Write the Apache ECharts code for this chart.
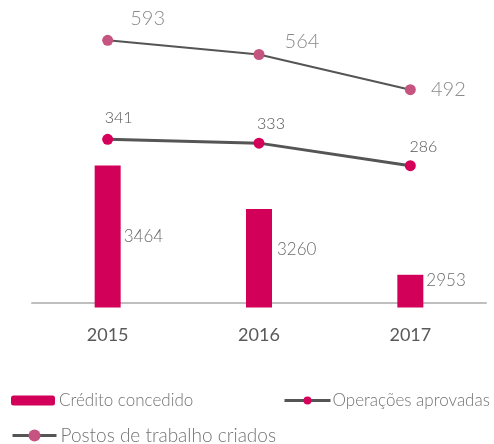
<!DOCTYPE html>
<html>
<head>
<meta charset="utf-8">
<script src="https://cdn.jsdelivr.net/npm/echarts@6/dist/echarts.min.js"></script>
<style>
html,body{margin:0;padding:0;background:#fff;}
#c{width:494px;height:444px;}
</style>
</head>
<body>
<div id="c"></div>
<script>
const categories = ['2015', '2016', '2017'];
const creditoConcedido = [3464, 3260, 2953];
const operacoesAprovadas = [341, 333, 286];
const postosTrabalho = [593, 564, 492];

const FONT = 'Lato';
const chart = echarts.init(document.getElementById('c'), null, {renderer: 'canvas'});

const barLabelShift = [[0, 0], [2, -9], [0, -11]];
const opLabelShift = [[11, -21], [12, -19], [13, -19]];
const postosLabelShift = [[40, -22], [43, -13], [38, 0]];

const option = {
  animation: false,
  textStyle: {fontFamily: FONT},
  grid: {left: 32, right: 8, top: 8, bottom: 136.5, containLabel: false},
  legend: [
    {
      data: ['Crédito concedido'], left: 11, top: 392,
      itemWidth: 44, itemHeight: 10, padding: 0,
      textStyle: {fontFamily: FONT, fontSize: 17, fontWeight: 300, color: '#737373', padding: [0, 0, 0, -1]}
    },
    {
      data: ['Operações aprovadas'], left: 283, top: 392,
      itemWidth: 46, itemHeight: 10, padding: 0,
      lineStyle: {width: 3},
      textStyle: {fontFamily: FONT, fontSize: 17, fontWeight: 300, color: '#737373', padding: [0, 0, 0, -3]}
    },
    {
      data: ['Postos de trabalho criados'], left: 11, top: 426,
      itemWidth: 44, itemHeight: 15, padding: 0,
      lineStyle: {width: 3},
      textStyle: {fontFamily: FONT, fontSize: 19, fontWeight: 300, color: '#737373', padding: [0, 0, 0, -1]}
    }
  ],
  xAxis: {
    type: 'category',
    data: categories,
    axisLine: {show: true, lineStyle: {color: '#bfbfbf', width: 2}},
    axisTick: {show: false},
    axisLabel: {fontFamily: FONT, fontSize: 18, color: '#595959', margin: 19}
  },
  yAxis: [
    {type: 'value', min: 2800, max: 4200, show: false, splitLine: {show: false}},
    {type: 'value', min: -9.4, max: 614.5, show: false, splitLine: {show: false}},
    {type: 'value', min: 46.6, max: 659.1, show: false, splitLine: {show: false}}
  ],
  series: [
    {
      name: 'Crédito concedido',
      type: 'bar',
      yAxisIndex: 0,
      barWidth: 26,
      itemStyle: {color: '#d20058'},
      data: creditoConcedido.map((v, i) => ({
        value: v,
        label: {
          show: true, position: 'right', distance: 3,
          offset: barLabelShift[i],
          fontFamily: FONT, fontSize: 17, fontWeight: 300, color: '#6b6b6b'
        }
      })),
      z: 1
    },
    {
      name: 'Operações aprovadas',
      type: 'line',
      yAxisIndex: 1,
      symbol: 'circle',
      symbolSize: 11,
      itemStyle: {color: '#d4005a'},
      lineStyle: {color: '#555555', width: 3},
      data: operacoesAprovadas.map((v, i) => ({
        value: v,
        label: {
          show: true, position: 'inside',
          offset: opLabelShift[i],
          fontFamily: FONT, fontSize: 16, fontWeight: 300, color: '#555555'
        }
      })),
      z: 3
    },
    {
      name: 'Postos de trabalho criados',
      type: 'line',
      yAxisIndex: 2,
      symbol: 'circle',
      symbolSize: 11,
      itemStyle: {color: '#c55480'},
      lineStyle: {color: '#555555', width: 2},
      data: postosTrabalho.map((v, i) => ({
        value: v,
        label: {
          show: true, position: 'inside',
          offset: postosLabelShift[i],
          fontFamily: FONT, fontSize: 20, fontWeight: 300, color: '#8a8a8a'
        }
      })),
      z: 3
    }
  ]
};
chart.setOption(option);
</script>
</body>
</html>
